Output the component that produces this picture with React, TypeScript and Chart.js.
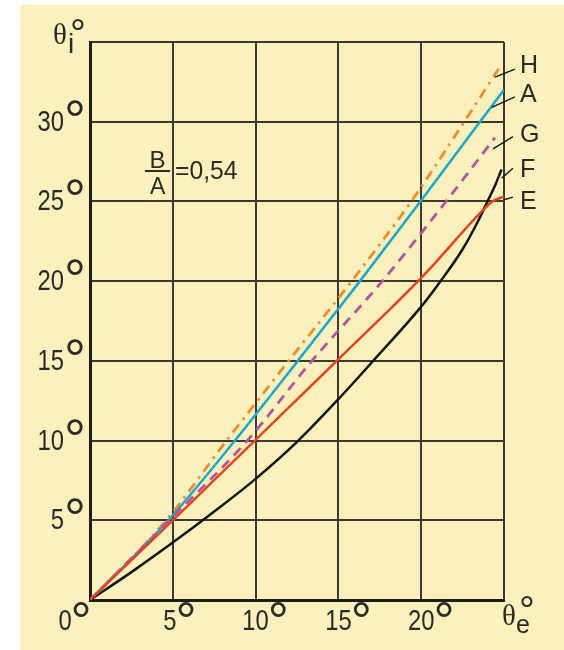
import React, { useEffect, useRef } from "react";
import { Chart, registerables } from "chart.js";
Chart.register(...registerables);

// ---- data (degrees) ----
const xTickValues = [0, 5, 10, 15, 20];
const yTickValues = [5, 10, 15, 20, 25, 30];

const hX = [0, 4.6, 8.25, 12.0, 15.8, 19.4, 22.6, 24.85];
const hY = [0, 5, 10, 15, 20, 25, 30, 33.6];

const aX = [0, 4.73, 8.75, 12.55, 16.3, 19.95, 23.55, 25];
const aY = [0, 5, 10, 15, 20, 25, 30, 32];

const gX = [0, 4.8, 9.5, 13.4, 17.65, 21.5, 24.45];
const gY = [0, 5, 10, 15, 20, 25, 29];

const fX = [0, 2.5, 5, 7.5, 10, 12.58, 15, 17.1, 20, 21.1, 22.5, 23.5, 24, 24.5, 24.85];
const fY = [0, 1.75, 3.6, 5.55, 7.6, 10, 12.6, 15, 18.4, 19.9, 22.0, 23.9, 25, 26.1, 27];

const eX = [0, 5, 10, 15, 20, 23.5, 24.3, 25];
const eY = [0, 5, 10.05, 15.1, 20.2, 24.2, 25, 25.3];

// curve labels: name, label y (deg), leader start (x,y) and end (x,y)
const curveNames = ["H", "A", "G", "F", "E"];
const labelY = [33.6, 31.8, 29.3, 27.1, 25.1];
const leaderStartX = [24.46, 24.26, 24.34, 24.86, 25.0];
const leaderStartY = [32.8, 30.9, 28.3, 26.46, 25.1];
const leaderEndX = [25.66, 25.66, 25.54, 25.54, 25.54];
const leaderEndY = [33.3, 31.56, 29.06, 27.08, 25.27];

const ratioText = "=0,54";

const pts = (xs: number[], ys: number[]) => xs.map((x, i) => ({ x, y: ys[i] }));

const SANS = '"Liberation Sans", Arial, sans-serif';
const SERIF = '"Liberation Serif", "Times New Roman", serif';
const TXT = "#2a2a26";

function condText(ctx: CanvasRenderingContext2D, text: string, x: number, y: number, size: number, align: "left" | "center" | "right", sx: number, font = SANS, weight = "normal") {
  ctx.save();
  ctx.font = `${weight} ${size}px ${font}`;
  const w = ctx.measureText(text).width * sx;
  const left = align === "right" ? x - w : align === "center" ? x - w / 2 : x;
  ctx.translate(left, y);
  ctx.scale(sx, 1);
  ctx.textAlign = "left";
  ctx.textBaseline = "alphabetic";
  ctx.fillStyle = TXT;
  ctx.fillText(text, 0, 0);
  ctx.restore();
  return { left, right: left + w };
}

// degree sign: ring whose box starts near (left, top)
function degree(ctx: CanvasRenderingContext2D, left: number, top: number, diam: number) {
  const size = diam * 4.4;
  ctx.save();
  ctx.font = `normal ${size}px ${SANS}`;
  const m = ctx.measureText("°");
  ctx.textAlign = "left";
  ctx.textBaseline = "alphabetic";
  ctx.fillStyle = TXT;
  ctx.fillText("°", left + m.actualBoundingBoxLeft, top + m.actualBoundingBoxAscent);
  ctx.restore();
}

const labelsPlugin = {
  id: "labelsPlugin",
  afterDraw(chart: any) {
    const ctx: CanvasRenderingContext2D = chart.ctx;
    const xs = chart.scales.x;
    const ys = chart.scales.y;
    const SX = 0.82;
    // y tick labels
    yTickValues.forEach((v) => {
      const py = ys.getPixelForValue(v);
      const r = condText(ctx, String(v), 64, py + 9, 29, "right", SX);
      degree(ctx, r.right + 3, py - 22, 12.5);
    });
    // x tick labels
    const bottom = ys.getPixelForValue(0);
    xTickValues.forEach((v) => {
      const px = xs.getPixelForValue(v) + (v === 0 ? -25 : v === 5 ? -3 : 0);
      const r = condText(ctx, String(v), px, bottom + 30, 29, "center", SX);
      degree(ctx, r.right + 2, bottom + 2, 12);
    });
    // axis titles
    const left = xs.getPixelForValue(0);
    const top = ys.getPixelForValue(35);
    condText(ctx, "θ", left - 37, top + 2, 29, "left", 1, SERIF);
    condText(ctx, "i", left - 22, top + 11, 28, "left", 1, SANS);
    degree(ctx, left - 18, top - 23, 9);
    const right = xs.getPixelForValue(25);
    condText(ctx, "θ", right - 2, bottom + 25, 29, "left", 1, SERIF);
    condText(ctx, "e", right + 12, bottom + 33, 25, "left", 1, SANS);
    degree(ctx, right + 17, bottom - 4, 9);

    // curve labels and leaders
    ctx.save();
    ctx.strokeStyle = "#1a1a1a";
    ctx.lineWidth = 1.5;
    curveNames.forEach((n, i) => {
      ctx.beginPath();
      ctx.moveTo(xs.getPixelForValue(leaderStartX[i]), ys.getPixelForValue(leaderStartY[i]));
      ctx.lineTo(xs.getPixelForValue(leaderEndX[i]), ys.getPixelForValue(leaderEndY[i]));
      ctx.stroke();
      condText(ctx, n, xs.getPixelForValue(25.97), ys.getPixelForValue(labelY[i]) + 9, 25, "left", 1);
    });
    ctx.restore();

    // B/A = 0,54
    const fx = xs.getPixelForValue(4.2);
    const fy = ys.getPixelForValue(26.94);
    condText(ctx, "B", fx - 2, fy - 2.5, 24, "center", 1);
    ctx.save();
    ctx.fillStyle = TXT;
    ctx.fillRect(fx - 14.5, fy - 0.5, 25, 2);
    ctx.restore();
    condText(ctx, "A", fx - 2, fy + 24, 23, "center", 1);
    condText(ctx, ratioText, fx + 15.5, fy + 9, 26, "left", 0.95);
  },
};

export default function App() {
  const ref = useRef<HTMLCanvasElement>(null);
  useEffect(() => {
    if (!ref.current) return;
    const common = { pointRadius: 0, borderWidth: 2.5, fill: false, cubicInterpolationMode: "monotone" as const };
    const chart = new Chart(ref.current, {
      type: "line",
      data: {
        datasets: [
          { label: "E", data: pts(eX, eY), borderColor: "#e5441f", ...common },
          { label: "F", data: pts(fX, fY), borderColor: "#141414", ...common },
          { label: "G", data: pts(gX, gY), borderColor: "#b2559e", borderDash: [10, 7], ...common, borderWidth: 2.8 },
          { label: "A", data: pts(aX, aY), borderColor: "#1aa6cf", ...common },
          { label: "H", data: pts(hX, hY), borderColor: "#f08c2a", borderDash: [10, 6, 2.5, 6], ...common, borderWidth: 2.8 },
        ],
      },
      options: {
        animation: false,
        responsive: false,
        maintainAspectRatio: false,
        layout: { padding: { left: 90, right: 60, top: 42, bottom: 50 } },
        plugins: { legend: { display: false }, tooltip: { enabled: false } },
        scales: {
          x: {
            type: "linear",
            min: 0,
            max: 25,
            ticks: { display: false, stepSize: 5 },
            grid: { color: "#3a3932", lineWidth: 2, drawTicks: false },
            border: { color: "#1c1c18", width: 3 },
          },
          y: {
            type: "linear",
            min: 0,
            max: 35,
            ticks: { display: false, stepSize: 5 },
            grid: { color: "#3a3932", lineWidth: 2, drawTicks: false },
            border: { color: "#1c1c18", width: 3 },
          },
        },
      },
      plugins: [labelsPlugin],
    });
    return () => chart.destroy();
  }, []);
  return (
    <div style={{ position: "fixed", left: 0, top: 0, width: 564, height: 650, background: "#ffffff" }}>
      <div style={{ position: "absolute", left: 20, top: 5, right: 0, bottom: 0, background: "#fcf1bd" }} />
      <canvas ref={ref} width={564} height={650} style={{ position: "absolute", left: 0, top: 0, width: 564, height: 650 }} />
    </div>
  );
}
